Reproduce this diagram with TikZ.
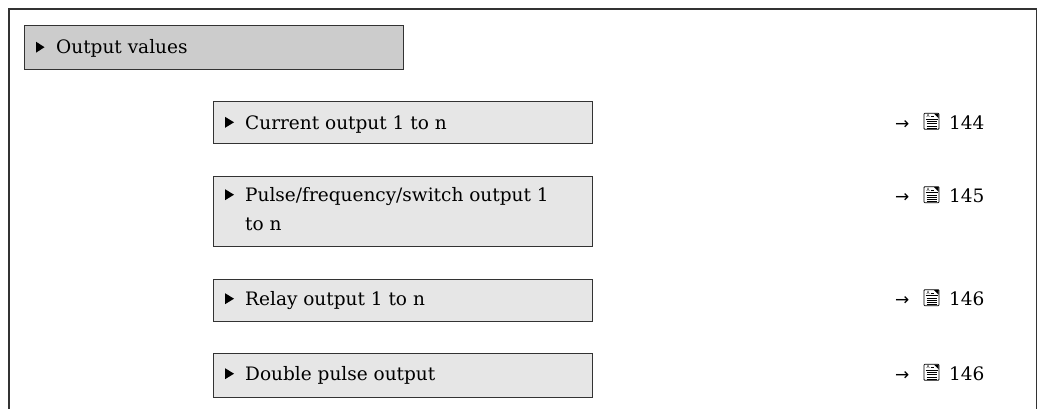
\documentclass[tikz,border=0pt]{standalone}
\usepackage{fontspec}
\setmainfont{DejaVu Serif}
\newfontfamily\symfont{DejaVu Sans}
\definecolor{hdrfill}{HTML}{CCCCCC}
\definecolor{subfill}{HTML}{E6E6E6}
\definecolor{edge}{HTML}{333333}
\begin{document}
\begin{tikzpicture}[x=1pt,y=-1pt,
  hdrbox/.style={draw=edge, line width=1.2pt, fill=hdrfill, anchor=north west, inner sep=0pt},
  subbox/.style={draw=edge, line width=1.2pt, fill=subfill, anchor=north west, inner sep=0pt, minimum width=379pt},
  lbl/.style={anchor=base west, inner sep=0pt, font=\fontsize{18.5}{22}\selectfont},
  arr/.style={anchor=base west, inner sep=0pt, font=\symfont\fontsize{17}{20}\selectfont},
  docicon/.pic={
    \draw[line width=0.8pt, rounded corners=0.8pt] (0,0) rectangle (15,16);
    \fill (10,0.4) -- (14.6,0.4) -- (14.6,5) -- cycle;
    \node[inner sep=0pt, font=\symfont\fontsize{4.5}{5}\selectfont] at (4.2,3) {A};
    \draw[line width=0.6pt] (6.5,3.2) -- (9.5,3.2);
    \draw[line width=0.6pt] (1.5,5.6) -- (13.5,5.6);
    \foreach \yy in {8.2,10.4,12.6,14.6} \draw[line width=0.6pt] (2.5,\yy) -- (12.5,\yy);
  }]
\useasboundingbox (0,0) rectangle (1038,408);
% outer frame
\draw[edge, line width=1.5pt] (9,410) -- (9,9) -- (1036.5,9) -- (1036.5,410);
% header
\node[hdrbox, minimum width=379pt, minimum height=43.5pt] (ov) at (24,25) {};
\fill (36,41.7) -- (44.5,47.2) -- (36,52.7) -- cycle;
\node[lbl] (ovt) at (56,53.5) {Output values};
% sub boxes
\node[subbox, minimum height=42.5pt] (cur) at (213,100.7) {};
\node[subbox, minimum height=70pt] (pfs) at (213,176) {};
\node[subbox, minimum height=42pt] (rel) at (213,279) {};
\node[subbox, minimum height=44pt] (dbl) at (213,353) {};
% triangles
\foreach \b in {129.3,201.7,305.7,380.7}
  \fill (225,\b-12.5) -- (234,\b-7) -- (225,\b-1.5) -- cycle;
% labels
\node[lbl] (curt) at (245,129.3) {Current output 1 to n};
\node[lbl] (pfst) at (245,201.7) {Pulse/frequency/switch output 1};
\node[lbl] (pfst2) at (245,230) {to n};
\node[lbl] (relt) at (245,305.7) {Relay output 1 to n};
\node[lbl] (dblt) at (245,380.7) {Double pulse output};
% page references
\node[arr] (cura) at (895,129.3) {→};
\pic at (924,113.3) {docicon};
\node[lbl] (curp) at (949,129.3) {144};
\node[arr] (pfsa) at (895,202.7) {→};
\pic at (924,186.7) {docicon};
\node[lbl] (pfsp) at (949,202.7) {145};
\node[arr] (rela) at (895,305.7) {→};
\pic at (924,289.7) {docicon};
\node[lbl] (relp) at (949,305.7) {146};
\node[arr] (dbla) at (895,380.3) {→};
\pic at (924,364.3) {docicon};
\node[lbl] (dblp) at (949,380.3) {146};
\end{tikzpicture}
\end{document}
